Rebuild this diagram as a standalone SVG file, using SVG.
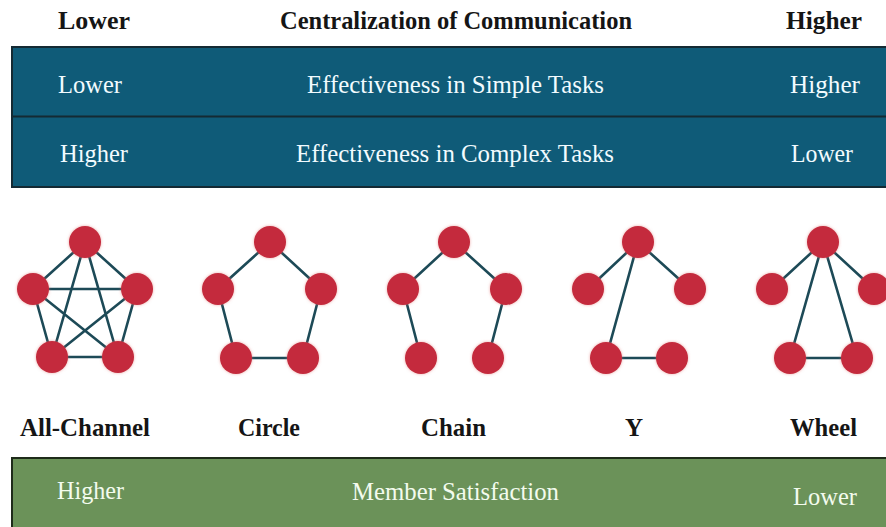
<svg xmlns="http://www.w3.org/2000/svg" width="886" height="527" viewBox="0 0 886 527">
  <defs>
    <filter id="halo" x="-40%" y="-40%" width="180%" height="180%">
      <feGaussianBlur in="SourceAlpha" stdDeviation="1.6" result="b"/>
      <feFlood flood-color="#e07070" flood-opacity="0.6"/>
      <feComposite in2="b" operator="in" result="s"/>
      <feMerge><feMergeNode in="s"/><feMergeNode in="SourceGraphic"/></feMerge>
    </filter>
  </defs>
  <style>
    text { font-family: "Liberation Serif", "Times New Roman", serif; font-size: 25px; }
    .hdr { font-weight: bold; fill: #151515; }
    .top { font-size: 26px; }
    .band { fill: #f2fbff; }
    .band-g { fill: #f3fbee; }
    .teal { fill: #0f5b78; stroke: #142a33; stroke-width: 2; }
    .green { fill: #6b9259; stroke: #1e2b1a; stroke-width: 2; }
    .edge { stroke: #1d4a57; stroke-width: 2.6; fill: none; }
    .node { fill: #c42a3e; filter: url(#halo); }
  </style>
  <rect width="886" height="527" fill="#ffffff"/>

  <!-- header row -->
  <g id="header">
    <text class="hdr top" x="58" y="29" textLength="72" lengthAdjust="spacingAndGlyphs">Lower</text>
    <text class="hdr top" x="280" y="29" textLength="352" lengthAdjust="spacingAndGlyphs">Centralization of Communication</text>
    <text class="hdr top" x="786" y="29" textLength="76" lengthAdjust="spacingAndGlyphs">Higher</text>
  </g>

  <!-- effectiveness bands -->
  <g id="effectiveness">
    <rect class="teal" x="12" y="47" width="880" height="140"/>
    <line x1="12" y1="116.5" x2="886" y2="116.5" stroke="#142a33" stroke-width="2"/>
    <text class="band" x="58" y="93" textLength="64" lengthAdjust="spacingAndGlyphs">Lower</text>
    <text class="band" x="307" y="93" textLength="297" lengthAdjust="spacingAndGlyphs">Effectiveness in Simple Tasks</text>
    <text class="band" x="790" y="93" textLength="70" lengthAdjust="spacingAndGlyphs">Higher</text>
    <text class="band" x="60" y="162" textLength="68" lengthAdjust="spacingAndGlyphs">Higher</text>
    <text class="band" x="296" y="162" textLength="318" lengthAdjust="spacingAndGlyphs">Effectiveness in Complex Tasks</text>
    <text class="band" x="791" y="162" textLength="62" lengthAdjust="spacingAndGlyphs">Lower</text>
  </g>

  <!-- connectors -->
  <g id="connectors">
    <!-- all-channel -->
    <path class="edge" d="M85 242 L33 289 M85 242 L137 289 M85 242 L52 357 M85 242 L118 357 M33 289 L137 289 M33 289 L52 357 M33 289 L118 357 M137 289 L118 357 M137 289 L52 357 M52 357 L118 357"/>
    <!-- circle -->
    <path class="edge" d="M270 242 L218 289 L236 358 L303 358 L321 289 Z"/>
    <!-- chain -->
    <path class="edge" d="M421 358 L403 289 L454 242 L506 289 L488 358"/>
    <!-- Y -->
    <path class="edge" d="M588 289 L638 242 L690 289 M638 242 L606 358 L672 358"/>
    <!-- wheel -->
    <path class="edge" d="M823 242 L772 289 M823 242 L874 289 M823 242 L790 358 M823 242 L857 358 M790 358 L857 358"/>
  </g>

  <g id="all-channel">
    <circle class="node" cx="85" cy="242" r="16"/>
    <circle class="node" cx="33" cy="289" r="16"/>
    <circle class="node" cx="137" cy="289" r="16"/>
    <circle class="node" cx="52" cy="357" r="16"/>
    <circle class="node" cx="118" cy="357" r="16"/>
    <text class="hdr" x="20" y="436" textLength="130" lengthAdjust="spacingAndGlyphs">All-Channel</text>
  </g>
  <g id="circle">
    <circle class="node" cx="270" cy="242" r="16"/>
    <circle class="node" cx="218" cy="289" r="16"/>
    <circle class="node" cx="321" cy="289" r="16"/>
    <circle class="node" cx="236" cy="358" r="16"/>
    <circle class="node" cx="303" cy="358" r="16"/>
    <text class="hdr" x="238" y="436" textLength="62" lengthAdjust="spacingAndGlyphs">Circle</text>
  </g>
  <g id="chain">
    <circle class="node" cx="454" cy="242" r="16"/>
    <circle class="node" cx="403" cy="289" r="16"/>
    <circle class="node" cx="506" cy="289" r="16"/>
    <circle class="node" cx="421" cy="358" r="16"/>
    <circle class="node" cx="488" cy="358" r="16"/>
    <text class="hdr" x="421" y="436" textLength="65" lengthAdjust="spacingAndGlyphs">Chain</text>
  </g>
  <g id="y">
    <circle class="node" cx="638" cy="242" r="16"/>
    <circle class="node" cx="588" cy="289" r="16"/>
    <circle class="node" cx="690" cy="289" r="16"/>
    <circle class="node" cx="606" cy="358" r="16"/>
    <circle class="node" cx="672" cy="358" r="16"/>
    <text class="hdr" x="634" y="436" text-anchor="middle">Y</text>
  </g>
  <g id="wheel">
    <circle class="node" cx="823" cy="242" r="16"/>
    <circle class="node" cx="772" cy="289" r="16"/>
    <circle class="node" cx="874" cy="289" r="16"/>
    <circle class="node" cx="790" cy="358" r="16"/>
    <circle class="node" cx="857" cy="358" r="16"/>
    <text class="hdr" x="790" y="436" textLength="67" lengthAdjust="spacingAndGlyphs">Wheel</text>
  </g>

  <!-- satisfaction band -->
  <g id="satisfaction">
    <rect class="green" x="12" y="458" width="880" height="80"/>
    <text class="band-g" x="57" y="499" textLength="67" lengthAdjust="spacingAndGlyphs">Higher</text>
    <text class="band-g" x="352" y="500" textLength="207" lengthAdjust="spacingAndGlyphs">Member Satisfaction</text>
    <text class="band-g" x="793" y="505" textLength="64" lengthAdjust="spacingAndGlyphs">Lower</text>
  </g>
</svg>
